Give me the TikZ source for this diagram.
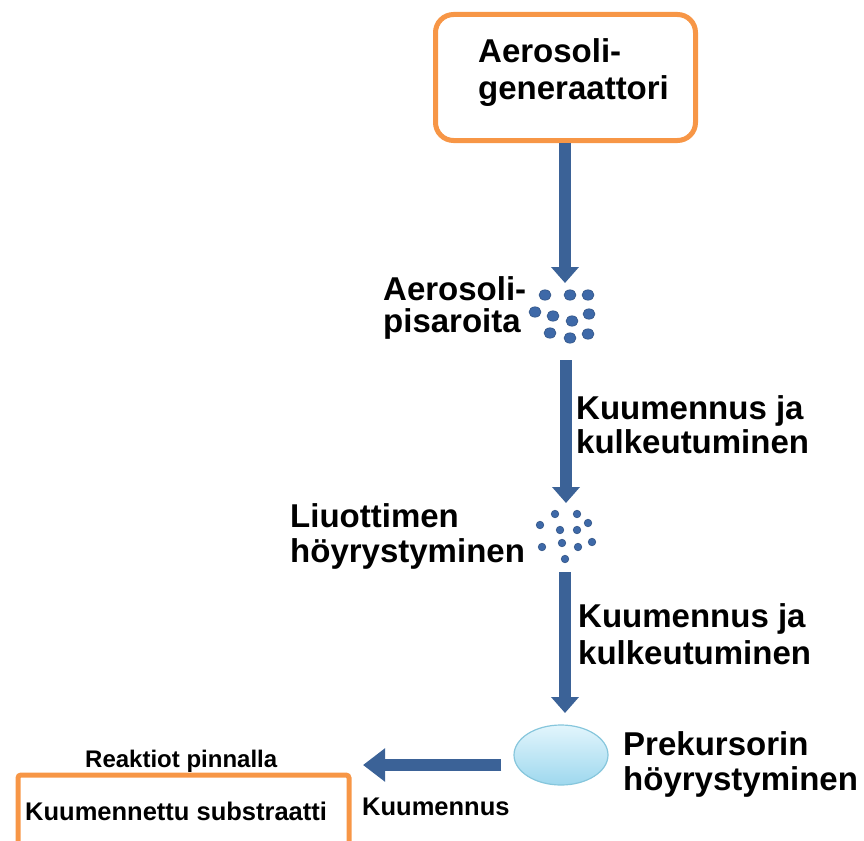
\documentclass[tikz,border=0pt]{standalone}
\usepackage{fontspec}
\setmainfont{Liberation Sans}
\usetikzlibrary{arrows.meta,shapes.geometric}
\definecolor{boxorange}{HTML}{F79646}
\definecolor{arrowblue}{HTML}{3B6297}
\definecolor{dropblue}{HTML}{3E69A8}
\definecolor{elltop}{HTML}{E2F5FC}
\definecolor{ellbot}{HTML}{9ED8EE}
\definecolor{elledge}{HTML}{86C6DC}
\begin{document}
\begin{tikzpicture}[x=1pt,y=-1pt,
  flow/.style={draw=arrowblue, line width=12pt, -{Triangle[length=16pt,width=27pt]}},
  sideflow/.style={draw=arrowblue, line width=12pt, -{Triangle[length=22pt,width=32pt]}},
  bigtxt/.style={font=\bfseries\fontsize{33}{35}\selectfont, inner sep=0pt, align=left},
  smalltxt/.style={font=\bfseries\fontsize{25.5}{28}\selectfont, inner sep=0pt},
  drop/.style={fill=dropblue, draw=dropblue!80!black, line width=0.6pt},
  orangebox/.style={draw=boxorange, line width=5pt}
]
\useasboundingbox (0,0) rectangle (864,840);

% top box
\node[orangebox, rounded corners=18pt, minimum width=260pt, minimum height=126pt, inner sep=0pt] (gen) at (565.5,77.5) {};
\node[bigtxt, anchor=base west, font=\bfseries\fontsize{33}{37}\selectfont] (gentxt) at (478,100) {Aerosoli-\\generaattori};

% droplet cluster 1
\coordinate (d1top) at (565,283);
\coordinate (d1bot) at (566,360);
\foreach \p in {(545,295),(570,295),(588,295),(535,312),(553,316),(572,321),(589,314),(550,333),(570,338),(588,334)}
  \fill[drop] \p ellipse [x radius=6pt, y radius=5.2pt];
\node[bigtxt, anchor=base west, font=\bfseries\fontsize{33}{32}\selectfont] (lab1) at (383,332) {Aerosoli-\\pisaroita};

% droplet cluster 2
\coordinate (d2top) at (566,503);
\coordinate (d2bot) at (565,572);
\foreach \p in {(555,514),(577,514),(540,525),(560,530),(577,530),(588,523),(542,547),(562,543),(578,547),(592,542),(565,559)}
  \fill[drop] \p circle [radius=3.8pt];
\node[bigtxt, anchor=base west] (lab3) at (290,562) {Liuottimen\\höyrystyminen};

% precursor ellipse
\node[ellipse, minimum width=94pt, minimum height=60pt, inner sep=0pt, draw=elledge, line width=1.2pt, top color=elltop, bottom color=ellbot] (prec) at (561,755) {};
\coordinate (prectop) at (565,713);
\node[bigtxt, anchor=base west] (lab5) at (623,790) {Prekursorin\\höyrystyminen};

% vertical arrows
\draw[flow] (gen.south -| d1top) -- (d1top);
\node[bigtxt, anchor=base west, font=\bfseries\fontsize{33}{34}\selectfont] (lab2) at (576,453) {Kuumennus ja\\kulkeutuminen};
\draw[flow] (d1bot) -- (d2top);
\node[bigtxt, anchor=base west, font=\bfseries\fontsize{33}{37}\selectfont] (lab4) at (578,664) {Kuumennus ja\\kulkeutuminen};
\draw[flow] (d2bot) -- (prectop);

% substrate box
\coordinate (subA) at (18,775);
\coordinate (subB) at (349,860);
\draw[orangebox, rounded corners=3pt] (subA) rectangle (subB);
\node[smalltxt] (subtxt) [anchor=base west] at (25,820) {Kuumennettu substraatti};
\node[smalltxt, font=\bfseries\fontsize{24}{26}\selectfont, anchor=base west] (reak) at (85,767) {Reaktiot pinnalla};

% horizontal arrow
\coordinate (subin) at (363,765);
\draw[sideflow] (prec.west |- subin) ++(-12,0) coordinate (hstart) -- (subin);
\node[smalltxt, anchor=base west] (kuum) at (362,815) {Kuumennus};
\end{tikzpicture}
\end{document}
